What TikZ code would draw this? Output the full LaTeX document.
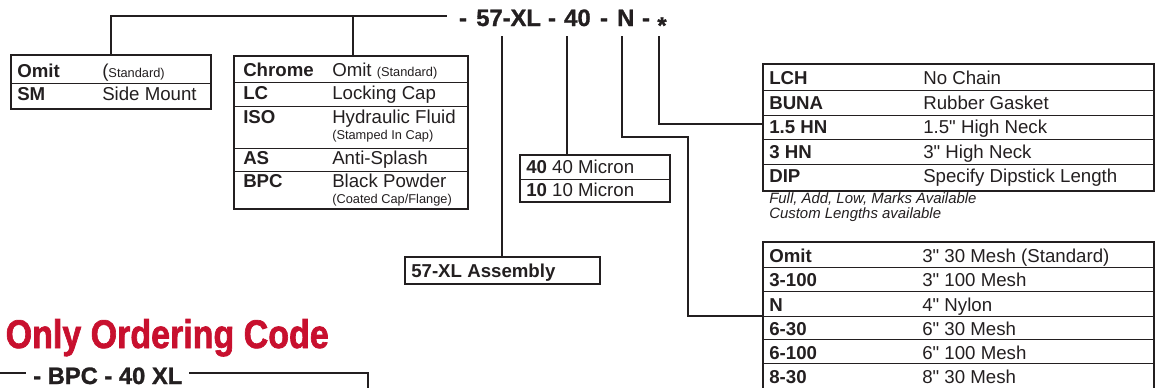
\documentclass[tikz,border=0pt]{standalone}
\usepackage{fontspec}
\setmainfont{Liberation Sans}
\newfontfamily\tabfont{Liberation Sans}
\newfontfamily\codefont[FakeBold=1.2]{Liberation Sans}
\newfontfamily\redfont[FakeStretch=0.85,FakeBold=1.6]{Liberation Sans}
\definecolor{ink}{HTML}{231F20}
\definecolor{codered}{HTML}{C8102E}
\tikzset{
  tbox/.style={draw=ink, line width=1.3pt, rectangle, inner sep=0pt, anchor=north west},
  divl/.style={draw=ink, line width=0.75pt},
  conn/.style={draw=ink, line width=1.1pt},
  keyt/.style={anchor=base west, inner sep=0pt, text=ink, font=\tabfont\bfseries\fontsize{14}{16}\selectfont},
  valt/.style={anchor=base west, inner sep=0pt, text=ink, font=\tabfont\fontsize{14}{16}\selectfont},
  subt/.style={anchor=base west, inner sep=0pt, text=ink, font=\tabfont\fontsize{9.6}{11}\selectfont},
  notet/.style={anchor=base west, inner sep=0pt, text=ink, font=\tabfont\itshape\fontsize{11.2}{13}\selectfont},
  codet/.style={anchor=base west, inner sep=0pt, text=ink, font=\codefont\bfseries\fontsize{17.8}{20}\selectfont},
  dasht/.style={anchor=base, inner sep=0pt, text=ink, font=\codefont\bfseries\fontsize{17.8}{20}\selectfont},
}
\newcommand{\smalltxt}[1]{{\fontsize{9.6}{11}\selectfont #1}}
\begin{document}
\tabfont
\begin{tikzpicture}[x=0.75pt,y=-0.75pt]
\useasboundingbox (0,0) rectangle (1155,387);
\clip (0,0) rectangle (1155,387);

% ---------- top code ----------
\node[dasht] (c1) at (463,26) {-};
\node[codet] (c57) at (476,26) {57-XL};
\node[dasht] (c2) at (552,26) {-};
\node[codet] (c40) at (564,26) {40};
\node[dasht] (c3) at (604,26) {-};
\node[codet] (cN) at (617,26) {N};
\node[dasht] (c4) at (646,26) {-};
\node[anchor=north, inner sep=0pt, text=ink, font=\codefont\bfseries\fontsize{17.8}{20}\selectfont] (cS) at (662,17) {*};

% ---------- boxes ----------
\node[tbox, minimum width=150pt, minimum height=40.5pt] (b1) at (10,54) {};
\node[tbox, minimum width=175.5pt, minimum height=114.75pt] (b2) at (233,55) {};
\node[tbox, minimum width=112.5pt, minimum height=35.25pt] (bmic) at (519,154) {};
\node[tbox, minimum width=146.25pt, minimum height=20.25pt] (basm) at (404,256) {};
\node[tbox, minimum width=293.25pt, minimum height=95.25pt] (blch) at (762,63) {};
\node[tbox, minimum width=293.25pt, minimum height=127.5pt] (bmesh) at (762,241) {};

% dividers
\draw[divl] (10,83) -- (210,83);
\foreach \yy in {82,106,148,171} \draw[divl] (233,\yy) -- (467,\yy);
\draw[divl] (519,179) -- (669,179);
\foreach \yy in {90,115,139,164} \draw[divl] (762,\yy) -- (1153,\yy);
\foreach \yy in {267,291,316,339,363} \draw[divl] (762,\yy) -- (1153,\yy);

% ---------- connectors ----------
\coordinate (brL) at (111,16);
\coordinate (brM) at (353,16);
\coordinate (brR) at (447,16);
\draw[conn] (brL |- b1.north) -- (brL) -- (brR);
\draw[conn] (brM) -- (brM |- b2.north);

\coordinate (l57) at (502,36);
\coordinate (l40) at (567,36);
\coordinate (lN) at (622,36);
\coordinate (nA) at (688,137);
\coordinate (lS) at (659,36);
\draw[conn] (l57) -- (l57 |- basm.north);
\draw[conn] (l40) -- (l40 |- bmic.north);
\draw[conn] (lN) |- (nA) |- (bmesh.west |- 0,316);
\draw[conn] (lS) |- (blch.west |- 0,124);

% ---------- box texts ----------
\node[keyt] (t11) at (17,77) {Omit};
\node[valt] (t12) at (102,77) {(\smalltxt{Standard)}};
\node[keyt] (t21) at (17,100) {SM};
\node[valt] (t22) at (102,100) {Side Mount};

\node[keyt] (k1) at (243,76) {Chrome};
\node[valt] (v1) at (332,76) {Omit \smalltxt{(Standard)}};
\node[keyt] (k2) at (243,99) {LC};
\node[valt] (v2) at (332,99) {Locking Cap};
\node[keyt] (k3) at (243,123) {ISO};
\node[valt] (v3) at (332,123) {Hydraulic Fluid};
\node[subt] (s3) at (332,139) {(Stamped In Cap)};
\node[keyt] (k4) at (243,164) {AS};
\node[valt] (v4) at (332,164) {Anti-Splash};
\node[keyt] (k5) at (243,187) {BPC};
\node[valt] (v5) at (332,187) {Black Powder};
\node[subt] (s5) at (332,203) {(Coated Cap/Flange)};

\node[valt] (m1) at (526,173) {\textbf{40} 40 Micron};
\node[valt] (m2) at (526,196) {\textbf{10} 10 Micron};

\node[keyt] (asm) at (411,277) {57-XL Assembly};

\node[keyt] (L1) at (769,84) {LCH};        \node[valt] (R1) at (923,84) {No Chain};
\node[keyt] (L2) at (769,109) {BUNA};      \node[valt] (R2) at (923,109) {Rubber Gasket};
\node[keyt] (L3) at (769,133) {1.5 HN};    \node[valt] (R3) at (923,133) {1.5" High Neck};
\node[keyt] (L4) at (769,158) {3 HN};      \node[valt] (R4) at (923,158) {3" High Neck};
\node[keyt] (L5) at (769,182) {DIP};       \node[valt] (R5) at (923,182) {Specify Dipstick Length};
\node[notet] (n1) at (769,203) {Full, Add, Low, Marks Available};
\node[notet] (n2) at (769,218) {Custom Lengths available};

\node[keyt] (M1) at (769,262) {Omit};   \node[valt] (W1) at (922,262) {3" 30 Mesh (Standard)};
\node[keyt] (M2) at (769,286) {3-100};  \node[valt] (W2) at (922,286) {3" 100 Mesh};
\node[keyt] (M3) at (769,311) {N};      \node[valt] (W3) at (922,311) {4" Nylon};
\node[keyt] (M4) at (769,335) {6-30};   \node[valt] (W4) at (922,335) {6" 30 Mesh};
\node[keyt] (M5) at (769,359) {6-100};  \node[valt] (W5) at (922,359) {6" 100 Mesh};
\node[keyt] (M6) at (769,383) {8-30};   \node[valt] (W6) at (922,383) {8" 30 Mesh};

% ---------- bottom-left ----------
\node[anchor=base east, inner sep=0pt, text=codered, font=\redfont\bfseries\fontsize{30}{33}\selectfont] (title) at (329,348) {Only Ordering Code};
\coordinate (bL) at (-5,373);
\coordinate (bE) at (26,373);
\draw[conn] (bL) -- (bE);
\node[codet] (bcode) at (33,384) {- BPC - 40 XL};
\coordinate (bR1) at (189,373);
\coordinate (bR2) at (368,373);
\draw[conn] (bR1) -- (bR2) -- (368,400);
\end{tikzpicture}
\end{document}
